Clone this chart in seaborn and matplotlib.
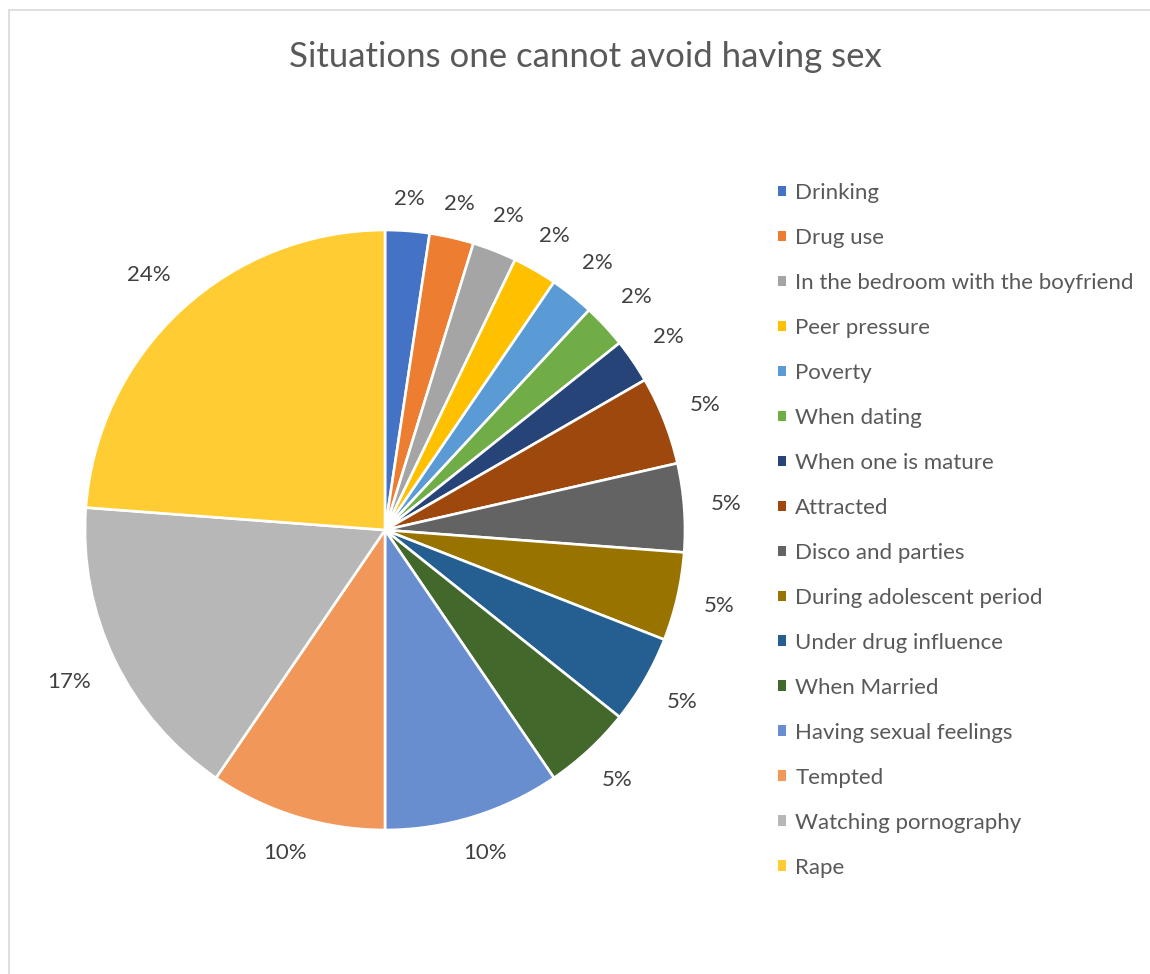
import matplotlib
matplotlib.use("Agg")
import numpy as np
import matplotlib.pyplot as plt
from matplotlib.patches import Patch, Rectangle
import seaborn as sns

# Responses: number of respondents naming each situation
situations = [
    "Drinking", "Drug use", "In the bedroom with the boyfriend", "Peer pressure",
    "Poverty", "When dating", "When one is mature", "Attracted",
    "Disco and parties", "During adolescent period", "Under drug influence",
    "When Married", "Having sexual feelings", "Tempted",
    "Watching pornography", "Rape",
]
counts = [1, 1, 1, 1, 1, 1, 1, 2, 2, 2, 2, 2, 4, 4, 7, 10]
colors = [
    "#4472C4", "#ED7D31", "#A5A5A5", "#FFC000", "#5B9BD5", "#70AD47",
    "#264478", "#9E480E", "#636363", "#997300", "#255E91", "#43682B",
    "#698ED0", "#F1975A", "#B7B7B7", "#FFCD33",
]
title = "Situations one cannot avoid having sex"

sns.set_theme(style="white")
plt.rcParams["font.family"] = ["Lato", "DejaVu Sans"]

W, H = 1150, 974
fig = plt.figure(figsize=(W / 100, H / 100), dpi=100)
fig.patch.set_facecolor("white")

# chart-area frame (top and left edges visible)
fig.patches.append(Rectangle((8.5 / W, -0.05), 1.2, 1.05 - 9.5 / H,
                             transform=fig.transFigure, fill=False,
                             edgecolor="#d9d9d9", linewidth=1.2))

# pie axes: centre (385, 530) px, radius 300 px
cx, cy, r = 385, 530, 300
ax = fig.add_axes([(cx - r) / W, (H - cy - r) / H, 2 * r / W, 2 * r / H])
wedges, texts, autotexts = ax.pie(
    counts, colors=colors, startangle=90, counterclock=False,
    autopct="%1.0f%%", pctdistance=1.1, radius=1,
    wedgeprops=dict(edgecolor="white", linewidth=1.9),
    textprops=dict(color="#404040", fontsize=16),
)
ax.set_xlim(-1, 1)
ax.set_ylim(-1, 1)
ax.set_aspect("equal")
ax.axis("off")

# push each percentage label just outside its wedge, keeping a constant gap
fig.canvas.draw()
renderer = fig.canvas.get_renderer()
half_h = 0.4 * 16 * 100 / 72
for w, t in zip(wedges, autotexts):
    mid = np.deg2rad(0.5 * (w.theta1 + w.theta2))
    c, s = np.cos(mid), np.sin(mid)
    half_w = t.get_window_extent(renderer).width / 2
    d = 1.072 + (abs(c) * half_w * 1.3 + abs(s) * half_h) / r
    t.set_position((d * c, d * s))
    t.set_ha("center")
    t.set_va("center")

fig.text(585 / W, 1 - 57 / H, title, ha="center", va="center",
         fontsize=25, color="#595959")

handles = [Patch(facecolor=c, edgecolor="none") for c in colors]
fig.legend(handles, situations, loc="upper left",
           bbox_to_anchor=(778 / W, 1 - 183 / H), frameon=False,
           fontsize=16, labelcolor="#595959", handlelength=0.36,
           handleheight=0.36, handletextpad=0.42, labelspacing=1.124,
           borderpad=0, borderaxespad=0)

fig.savefig("out.png", dpi=100, facecolor="white")
